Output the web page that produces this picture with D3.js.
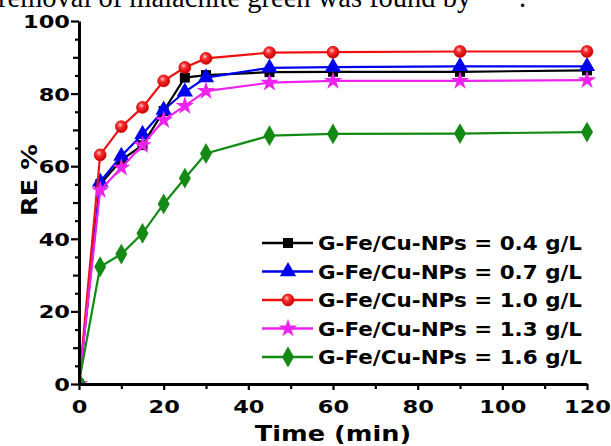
<!DOCTYPE html>
<html>
<head>
<meta charset="utf-8">
<script src="https://cdn.jsdelivr.net/npm/d3@7"></script>
<style>
  body { margin: 0; background: #fff; }
  svg { display: block; }
</style>
</head>
<body>
<div id="chart"></div>
<script>
let width = 611,
height = 446;

// data
let time = [0, 5, 10, 15, 20, 25, 30, 45, 60, 90, 120];
let dose04 = [0, 55.0, 61.7, 65.8, 75.2, 84.4, 85.1, 85.9, 86.0, 86.0, 86.4];
let dose07 = [0, 55.7, 62.8, 68.8, 75.5, 80.5, 84.4, 87.1, 87.3, 87.5, 87.5];
let dose10 = [0, 63.1, 70.9, 76.2, 83.5, 87.2, 89.7, 91.3, 91.4, 91.6, 91.6];
let dose13 = [0, 53.4, 59.6, 65.8, 72.7, 76.6, 80.7, 83.0, 83.5, 83.5, 83.7];
let dose16 = [0.5, 32.3, 35.8, 41.5, 49.6, 56.7, 63.5, 68.4, 68.9, 69.0, 69.4];
let seriesNames = ["G-Fe/Cu-NPs = 0.4 g/L", "G-Fe/Cu-NPs = 0.7 g/L", "G-Fe/Cu-NPs = 1.0 g/L",
  "G-Fe/Cu-NPs = 1.3 g/L", "G-Fe/Cu-NPs = 1.6 g/L"];
let xTicks = [0, 20, 40, 60, 80, 100, 120];
let yTicks = [0, 20, 40, 60, 80, 100];

let series = [
  { name: seriesNames[0], values: dose04, color: "#000000", shape: "square" },
  { name: seriesNames[1], values: dose07, color: "#0000ee", shape: "triangle" },
  { name: seriesNames[2], values: dose10, color: "#ee1111", shape: "circle" },
  { name: seriesNames[3], values: dose13, color: "#ee22ee", shape: "star" },
  { name: seriesNames[4], values: dose16, color: "#138a13", shape: "diamond" }
];

let svg = d3.select("#chart")
.append("svg")
.attr("width", width)
.attr("height", height);

let defs = svg.append("defs");
let grad = defs.append("radialGradient")
.attr("id", "ball")
.attr("cx", "40%").attr("cy", "35%").attr("r", "65%");
grad.append("stop").attr("offset", "0%").attr("stop-color", "#ffd0d0");
grad.append("stop").attr("offset", "35%").attr("stop-color", "#ff3030");
grad.append("stop").attr("offset", "100%").attr("stop-color", "#c00000");

let x = d3.scaleLinear().domain([0, 120]).range([79, 587]);
let y = d3.scaleLinear().domain([0, 100]).range([384, 21]);

defs.append("clipPath").attr("id", "plotclip")
.append("rect")
.attr("x", x(0)).attr("y", 0)
.attr("width", width - x(0)).attr("height", y(0));

let font = "'DejaVu Sans', sans-serif";

// cropped sentence from the page above the figure
svg.append("text")
.attr("x", -2).attr("y", 7)
.attr("font-family", "'Liberation Serif', 'Times New Roman', serif")
.attr("font-size", 28.5)
.text("removal of malachite green was found by");
svg.append("text")
.attr("x", 519).attr("y", 7)
.attr("font-family", "'Liberation Serif', 'Times New Roman', serif")
.attr("font-size", 28.5)
.text(".");

// lines and markers
let symbols = {
  square: d3.symbol().type(d3.symbolSquare).size(100),
  triangle: d3.symbol().type(d3.symbolTriangle).size(115),
  circle: d3.symbol().type(d3.symbolCircle).size(110),
  star: d3.symbol().type(d3.symbolStar).size(105),
  diamond: d3.symbol().type(d3.symbolDiamond).size(125)
};

let line = d3.line()
.x((d, i) => x(time[i]))
.y(d => y(d));

let plot = svg.append("g").attr("clip-path", "url(#plotclip)");

series.forEach(s => {
  plot.append("path")
  .datum(s.values)
  .attr("d", line)
  .attr("fill", "none")
  .attr("stroke", s.color)
  .attr("stroke-width", 2.2);

  plot.selectAll(null)
  .data(s.values)
  .enter().append("path")
  .attr("transform", (d, i) => "translate(" + x(time[i]) + "," + y(d) + ")")
  .attr("d", symbols[s.shape])
  .attr("fill", s.shape == "circle" ? "url(#ball)" : s.color)
  .attr("stroke", s.shape == "circle" ? "#dd0000" : "none")
  .attr("stroke-width", 0.8);
});

// axes
let xAxis = svg.append("g")
.attr("transform", "translate(0," + y(0) + ")")
.call(d3.axisBottom(x)
  .tickValues(d3.range(0, 121, 10))
  .tickSize(5)
  .tickSizeOuter(0)
  .tickFormat(d => xTicks.includes(d) ? d : ""));

let yAxis = svg.append("g")
.attr("transform", "translate(" + x(0) + ",0)")
.call(d3.axisLeft(y)
  .tickValues(d3.range(0, 101, 5))
  .tickSize(8)
  .tickSizeOuter(0)
  .tickFormat(d => yTicks.includes(d) ? d : ""));

yAxis.selectAll(".tick line")
.attr("x2", d => d % 20 == 0 ? -8 : (d % 10 == 0 ? -6 : -4));
xAxis.selectAll(".tick line")
.attr("y2", d => d % 20 == 0 ? 6 : 5);

[xAxis, yAxis].forEach(a => {
  a.select(".domain").attr("stroke-width", 3);
  a.selectAll(".tick line").attr("stroke-width", 2.2);
  a.selectAll("text")
  .attr("font-family", font)
  .attr("font-weight", "bold")
  .attr("font-size", 18)
  .attr("fill", "#000");
});

xAxis.selectAll("text")
.attr("y", 0)
.attr("dy", 0)
.attr("transform", "translate(0,29) scale(1.25,1)");
yAxis.selectAll("text")
.attr("x", 0)
.attr("dy", "0.36em")
.attr("transform", "translate(-9,0) scale(1.25,1)");

// axis titles
svg.append("text")
.attr("transform", "translate(" + x(60) + ",441) scale(1.22,1)")
.attr("text-anchor", "middle")
.attr("font-family", font)
.attr("font-weight", "bold")
.attr("font-size", 21)
.text("Time (min)");

svg.append("text")
.attr("transform", "translate(37," + 180 + ") rotate(-90) scale(1.22,1)")
.attr("text-anchor", "middle")
.attr("font-family", font)
.attr("font-weight", "bold")
.attr("font-size", 21)
.text("RE %");

// legend
let legend = svg.append("g");
let rowY = d3.scaleLinear().domain([0, 4]).range([243, 357]);

series.forEach((s, i) => {
  let ly = rowY(i);
  legend.append("line")
  .attr("x1", 262).attr("x2", 313)
  .attr("y1", ly).attr("y2", ly)
  .attr("stroke", s.color)
  .attr("stroke-width", 2.5);
  legend.append("path")
  .attr("transform", "translate(288," + ly + ")")
  .attr("d", symbols[s.shape])
  .attr("fill", s.shape == "circle" ? "url(#ball)" : s.color)
  .attr("stroke", s.shape == "circle" ? "#dd0000" : "none")
  .attr("stroke-width", 0.8);
  legend.append("text")
  .attr("transform", "translate(318," + (ly + 7) + ") scale(1.13,1)")
  .attr("font-family", font)
  .attr("font-weight", "bold")
  .attr("font-size", 19)
  .text(s.name);
});
</script>
</body>
</html>
